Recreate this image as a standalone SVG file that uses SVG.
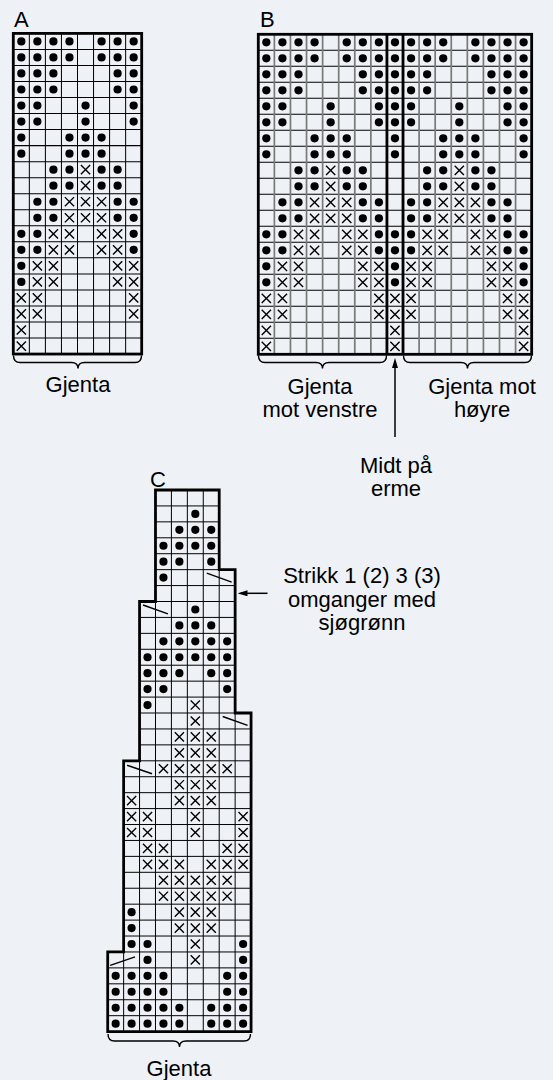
<svg xmlns="http://www.w3.org/2000/svg" width="553" height="1080" viewBox="0 0 553 1080">
<style>
.t{font-family:"Liberation Sans",Arial,Helvetica,sans-serif;font-size:22px;fill:#000}
.m{text-anchor:middle}
.g{fill:none;stroke:#000;stroke-width:1}
.gv{fill:none;stroke:#7a7a7a;stroke-width:1.7}
.b{fill:none;stroke:#000;stroke-width:2.8;stroke-linejoin:miter}
.br{fill:none;stroke:#000;stroke-width:1.4}
.sl{fill:none;stroke:#000;stroke-width:1.4}
.ar{fill:none;stroke:#000;stroke-width:1.5}
</style>
<defs>
<circle id="d" r="4.1" fill="#000"/>
<path id="x" d="M-4.6-4.6L4.6 4.6M4.6-4.6L-4.6 4.6" stroke="#000" stroke-width="1.4" fill="none"/>
<g id="rA0"><use href="#d" x="8"/><use href="#d" x="24"/><use href="#d" x="40"/><use href="#d" x="56"/><use href="#d" x="88"/><use href="#d" x="104"/><use href="#d" x="120"/></g>
<g id="rA1"><use href="#d" x="8"/><use href="#d" x="24"/><use href="#d" x="40"/><use href="#d" x="104"/><use href="#d" x="120"/></g>
<g id="rA2"><use href="#d" x="8"/><use href="#d" x="24"/><use href="#d" x="72"/><use href="#d" x="120"/></g>
<g id="rA3"><use href="#d" x="8"/><use href="#d" x="56"/><use href="#d" x="72"/><use href="#d" x="88"/></g>
<g id="rA4"><use href="#d" x="40"/><use href="#d" x="56"/><use href="#x" x="72"/><use href="#d" x="88"/><use href="#d" x="104"/></g>
<g id="rA5"><use href="#d" x="24"/><use href="#d" x="40"/><use href="#x" x="56"/><use href="#x" x="72"/><use href="#x" x="88"/><use href="#d" x="104"/><use href="#d" x="120"/></g>
<g id="rA6"><use href="#d" x="8"/><use href="#d" x="24"/><use href="#x" x="40"/><use href="#x" x="56"/><use href="#x" x="88"/><use href="#x" x="104"/><use href="#d" x="120"/></g>
<g id="rA7"><use href="#d" x="8"/><use href="#x" x="24"/><use href="#x" x="40"/><use href="#x" x="104"/><use href="#x" x="120"/></g>
<g id="rA8"><use href="#x" x="8"/><use href="#x" x="24"/><use href="#x" x="120"/></g>
<g id="rA9"><use href="#x" x="8"/></g>
<g id="patA">
<use href="#rA0" y="8"/><use href="#rA0" y="24"/>
<use href="#rA1" y="40"/><use href="#rA1" y="56"/>
<use href="#rA2" y="72"/><use href="#rA2" y="88"/>
<use href="#rA3" y="104"/><use href="#rA3" y="120"/>
<use href="#rA4" y="136"/><use href="#rA4" y="152"/>
<use href="#rA5" y="168"/><use href="#rA5" y="184"/>
<use href="#rA6" y="200"/><use href="#rA6" y="216"/>
<use href="#rA7" y="232"/><use href="#rA7" y="248"/>
<use href="#rA8" y="264"/><use href="#rA8" y="280"/>
<use href="#rA9" y="296"/><use href="#rA9" y="312"/>
</g>
<marker id="ah" viewBox="0 0 10 6" refX="7" refY="3" markerWidth="10" markerHeight="6" markerUnits="userSpaceOnUse" orient="auto"><path d="M0 0L10 3L0 6Z" fill="#000"/></marker>
</defs>
<rect width="553" height="1080" fill="#eef1f5"/>

<g id="chart-a" transform="translate(13.3,33.4) scale(1.003,1.002)">
<path class="g" d="M0 16H128M0 32H128M0 48H128M0 64H128M0 80H128M0 96H128M0 112H128M0 128H128M0 144H128M0 160H128M0 176H128M0 192H128M0 208H128M0 224H128M0 240H128M0 256H128M0 272H128M0 288H128M0 304H128M16 0V320M32 0V320M48 0V320M64 0V320M80 0V320M96 0V320M112 0V320"/>
<use href="#patA"/>
<rect class="b" x="0" y="0" width="128" height="320"/>
</g>

<g id="chart-b" transform="translate(258.3,34.3) scale(1.005,1)">
<path class="g" d="M0 16H272M0 32H272M0 48H272M0 64H272M0 80H272M0 96H272M0 112H272M0 128H272M0 144H272M0 160H272M0 176H272M0 192H272M0 208H272M0 224H272M0 240H272M0 256H272M0 272H272M0 288H272M0 304H272"/>
<path class="gv" d="M16 0V320M32 0V320M48 0V320M64 0V320M80 0V320M96 0V320M112 0V320M160 0V320M176 0V320M192 0V320M208 0V320M224 0V320M240 0V320M256 0V320"/>
<use href="#patA"/>
<g id="b-center">
<use href="#d" x="136" y="8"/><use href="#d" x="136" y="24"/><use href="#d" x="136" y="40"/><use href="#d" x="136" y="56"/><use href="#d" x="136" y="72"/><use href="#d" x="136" y="88"/><use href="#d" x="136" y="104"/><use href="#d" x="136" y="120"/>
<use href="#d" x="136" y="200"/><use href="#d" x="136" y="216"/><use href="#d" x="136" y="232"/><use href="#d" x="136" y="248"/>
<use href="#x" x="136" y="264"/><use href="#x" x="136" y="280"/><use href="#x" x="136" y="296"/><use href="#x" x="136" y="312"/>
</g>
<use href="#patA" transform="translate(272,0) scale(-1,1)"/>
<rect class="b" x="0" y="0" width="272" height="320"/>
<path class="b" d="M128 0V320M144 0V320"/>
</g>

<g id="chart-c" transform="translate(107.7,490) scale(0.9956)">
<path class="g" d="M48 16H112M48 32H112M48 48H112M48 64H112M48 80H112M48 96H128M48 112H128M32 128H128M32 144H128M32 160H128M32 176H128M32 192H128M32 208H128M32 224H128M32 240H144M32 256H144M32 272H144M16 288H144M16 304H144M16 320H144M16 336H144M16 352H144M16 368H144M16 384H144M16 400H144M16 416H144M16 432H144M16 448H144M16 464H144M0 480H144M0 496H144M0 512H144M0 528H144M16 464V544M32 272V544M48 112V544M64 0V544M80 0V544M96 0V544M112 80V544M128 224V544"/>
<g id="c-marks">
<use href="#d" x="88" y="24"/>
<use href="#d" x="72" y="40"/><use href="#d" x="88" y="40"/><use href="#d" x="104" y="40"/>
<use href="#d" x="56" y="56"/><use href="#d" x="72" y="56"/><use href="#d" x="88" y="56"/><use href="#d" x="104" y="56"/>
<use href="#d" x="56" y="72"/><use href="#d" x="72" y="72"/><use href="#d" x="104" y="72"/>
<use href="#d" x="56" y="88"/>
<use href="#d" x="88" y="120"/>
<use href="#d" x="72" y="136"/><use href="#d" x="88" y="136"/><use href="#d" x="104" y="136"/>
<use href="#d" x="56" y="152"/><use href="#d" x="72" y="152"/><use href="#d" x="88" y="152"/><use href="#d" x="104" y="152"/><use href="#d" x="120" y="152"/>
<use href="#d" x="40" y="168"/><use href="#d" x="56" y="168"/><use href="#d" x="72" y="168"/><use href="#d" x="88" y="168"/><use href="#d" x="104" y="168"/><use href="#d" x="120" y="168"/>
<use href="#d" x="40" y="184"/><use href="#d" x="56" y="184"/><use href="#d" x="72" y="184"/><use href="#d" x="104" y="184"/><use href="#d" x="120" y="184"/>
<use href="#d" x="40" y="200"/><use href="#d" x="56" y="200"/><use href="#d" x="120" y="200"/>
<use href="#d" x="40" y="216"/><use href="#x" x="88" y="216"/>
<use href="#x" x="88" y="232"/>
<use href="#x" x="72" y="248"/><use href="#x" x="88" y="248"/><use href="#x" x="104" y="248"/>
<use href="#x" x="72" y="264"/><use href="#x" x="88" y="264"/><use href="#x" x="104" y="264"/>
<use href="#x" x="56" y="280"/><use href="#x" x="72" y="280"/><use href="#x" x="88" y="280"/><use href="#x" x="104" y="280"/><use href="#x" x="120" y="280"/>
<use href="#x" x="72" y="296"/><use href="#x" x="88" y="296"/><use href="#x" x="104" y="296"/>
<use href="#x" x="24" y="312"/><use href="#x" x="72" y="312"/><use href="#x" x="88" y="312"/><use href="#x" x="104" y="312"/>
<use href="#x" x="24" y="328"/><use href="#x" x="40" y="328"/><use href="#x" x="88" y="328"/><use href="#x" x="136" y="328"/>
<use href="#x" x="24" y="344"/><use href="#x" x="40" y="344"/><use href="#x" x="88" y="344"/><use href="#x" x="136" y="344"/>
<use href="#x" x="40" y="360"/><use href="#x" x="56" y="360"/><use href="#x" x="120" y="360"/><use href="#x" x="136" y="360"/>
<use href="#x" x="40" y="376"/><use href="#x" x="56" y="376"/><use href="#x" x="72" y="376"/><use href="#x" x="104" y="376"/><use href="#x" x="120" y="376"/><use href="#x" x="136" y="376"/>
<use href="#x" x="56" y="392"/><use href="#x" x="72" y="392"/><use href="#x" x="88" y="392"/><use href="#x" x="104" y="392"/><use href="#x" x="120" y="392"/>
<use href="#x" x="56" y="408"/><use href="#x" x="72" y="408"/><use href="#x" x="88" y="408"/><use href="#x" x="104" y="408"/><use href="#x" x="120" y="408"/>
<use href="#d" x="24" y="424"/><use href="#x" x="72" y="424"/><use href="#x" x="88" y="424"/><use href="#x" x="104" y="424"/>
<use href="#d" x="24" y="440"/><use href="#x" x="72" y="440"/><use href="#x" x="88" y="440"/><use href="#x" x="104" y="440"/>
<use href="#d" x="24" y="456"/><use href="#d" x="40" y="456"/><use href="#x" x="88" y="456"/><use href="#d" x="136" y="456"/>
<use href="#d" x="40" y="472"/><use href="#x" x="88" y="472"/><use href="#d" x="136" y="472"/>
<use href="#d" x="8" y="488"/><use href="#d" x="24" y="488"/><use href="#d" x="40" y="488"/><use href="#d" x="56" y="488"/><use href="#d" x="120" y="488"/><use href="#d" x="136" y="488"/>
<use href="#d" x="8" y="504"/><use href="#d" x="24" y="504"/><use href="#d" x="40" y="504"/><use href="#d" x="56" y="504"/><use href="#d" x="120" y="504"/><use href="#d" x="136" y="504"/>
<use href="#d" x="8" y="520"/><use href="#d" x="24" y="520"/><use href="#d" x="40" y="520"/><use href="#d" x="56" y="520"/><use href="#d" x="72" y="520"/><use href="#d" x="104" y="520"/><use href="#d" x="120" y="520"/><use href="#d" x="136" y="520"/>
<use href="#d" x="8" y="536"/><use href="#d" x="24" y="536"/><use href="#d" x="40" y="536"/><use href="#d" x="56" y="536"/><use href="#d" x="72" y="536"/><use href="#d" x="104" y="536"/><use href="#d" x="120" y="536"/><use href="#d" x="136" y="536"/>
</g>
<path class="sl" d="M99.5 83.5L124.5 92.5M35.5 115.5L60.5 124.5M115.5 227.5L140.5 236.5M19.5 276.5L44.5 285M2.5 477.5L27.5 469"/>
<path class="b" d="M48 0H112V80H128V224H144V544H0V464H16V272H32V112H48Z"/>
</g>

<g id="connectors">
<path class="br" d="M13.5 355.5Q13.5 362.5 20 362.5H71.5Q78 362.5 78 368.5Q78 362.5 84.5 362.5H135Q141.5 362.5 141.5 355.5"/>
<path class="br" d="M258.5 355.5Q258.5 362.5 265 362.5H316Q322.5 362.5 322.5 368.5Q322.5 362.5 329 362.5H380Q386.5 362.5 386.5 355.5"/>
<path class="br" d="M403.5 355.5Q403.5 362.5 410 362.5H461Q467.5 362.5 467.5 368.5Q467.5 362.5 474 362.5H525Q531.5 362.5 531.5 355.5"/>
<path class="br" d="M108 1034Q108 1041 114.5 1041H173Q179.5 1041 179.5 1047Q179.5 1041 186 1041H244Q250.5 1041 250.5 1034"/>
<path class="ar" d="M395 437V361" marker-end="url(#ah)"/>
<path class="ar" d="M267.5 593.3H240.5" marker-end="url(#ah)"/>
</g>

<g id="labels">
<text class="t" x="14" y="26.7">A</text>
<text class="t" x="260" y="26.7">B</text>
<text class="t" x="150" y="487">C</text>
<text class="t m" x="78" y="392">Gjenta</text>
<text class="t m" x="320" y="394">Gjenta</text>
<text class="t m" x="320" y="417">mot venstre</text>
<text class="t m" x="482" y="394">Gjenta mot</text>
<text class="t m" x="482" y="417">høyre</text>
<text class="t m" x="396" y="473">Midt på</text>
<text class="t m" x="396" y="496">erme</text>
<text class="t m" x="362" y="583">Strikk 1 (2) 3 (3)</text>
<text class="t m" x="362" y="606.5">omganger med</text>
<text class="t m" x="362" y="630">sjøgrønn</text>
<text class="t m" x="179" y="1076">Gjenta</text>
</g>
</svg>
